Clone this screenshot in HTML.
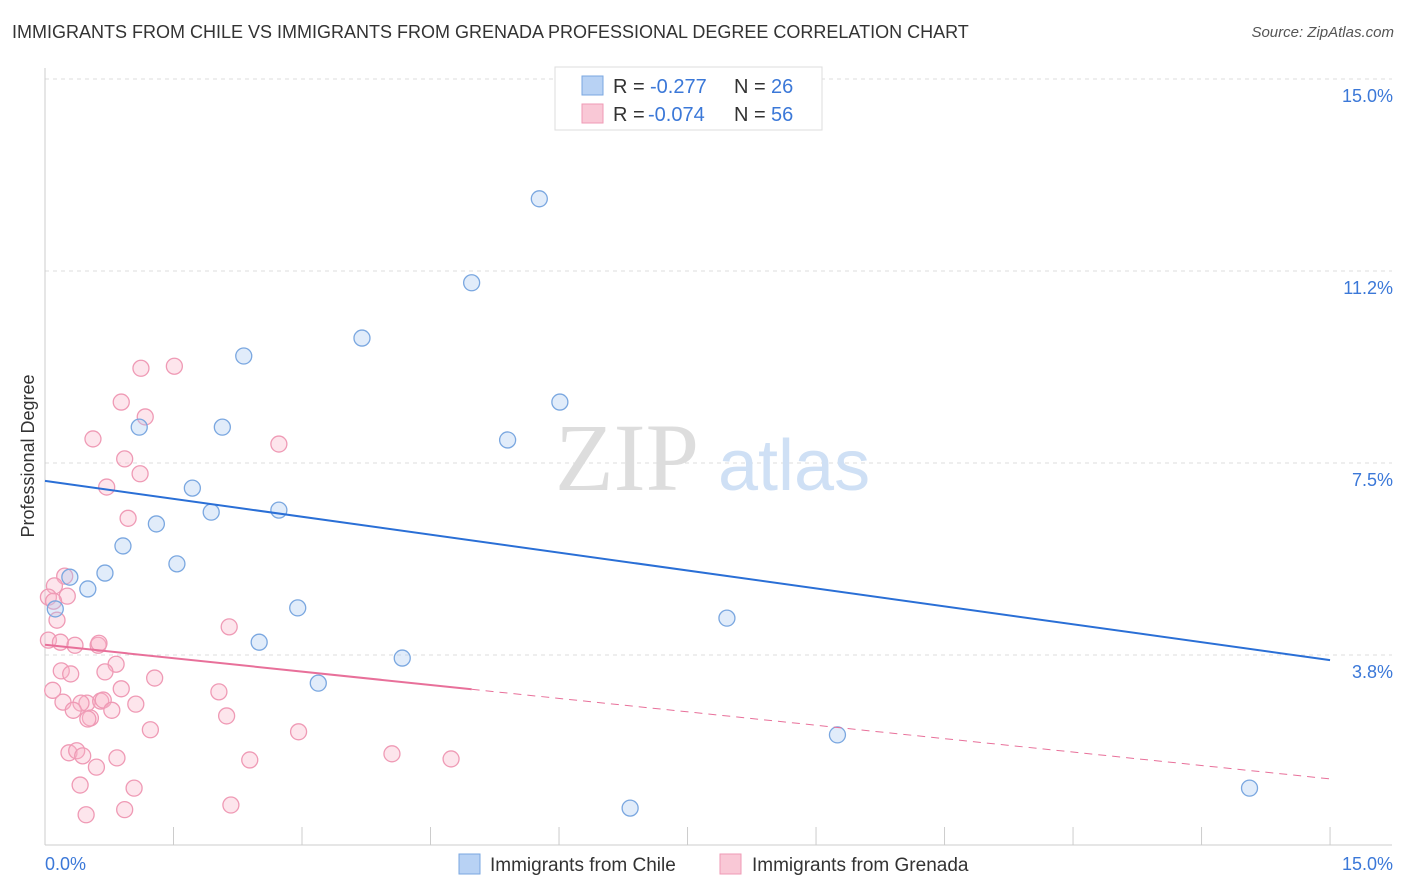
<!DOCTYPE html>
<html><head><meta charset="utf-8"><style>
body{margin:0;background:#fff;font-family:"Liberation Sans",sans-serif;}
#wrap{position:relative;width:1406px;height:892px;overflow:hidden;}
.title{position:absolute;left:12px;top:22px;font-size:18px;color:#333;}
.src{position:absolute;right:12px;top:24px;font-size:15px;color:#555;font-style:italic;}
</style></head><body>
<div id="wrap">
<div class="title">IMMIGRANTS FROM CHILE VS IMMIGRANTS FROM GRENADA PROFESSIONAL DEGREE CORRELATION CHART</div>
<div class="src">Source: ZipAtlas.com</div>
<svg id="svg" width="1406" height="892" style="position:absolute;left:0;top:0"></svg>
</div>
<script>
const yTicks=[3.75,7.5,11.25,15];
const yTickLabels=["3.8%","7.5%","11.2%","15.0%"];
const xTickVals=[0,1.5,3,4.5,6,7.5,9,10.5,12,13.5,15];
const chileX=[5.77,4.98,3.70,2.32,6.01,1.10,2.07,5.40,1.72,1.94,2.73,1.30,0.91,1.54,0.29,0.70,0.50,0.12,2.95,7.96,2.50,4.17,3.19,9.25,14.06,6.83];
const chileY=[12.66,11.02,9.94,9.59,8.69,8.20,8.20,7.95,7.01,6.54,6.58,6.31,5.88,5.53,5.27,5.35,5.04,4.65,4.67,4.47,4.00,3.69,3.20,2.19,1.15,0.76];
const grenX=[1.12,1.51,0.89,1.17,0.56,2.73,0.93,1.11,0.72,0.97,0.23,0.11,0.26,0.04,0.14,0.04,0.18,0.35,0.62,0.63,2.15,0.83,0.19,0.30,0.70,1.28,0.09,0.89,2.03,0.21,0.49,0.65,0.68,0.42,1.06,0.78,0.33,0.53,0.50,2.12,1.23,2.96,0.28,0.37,0.44,0.84,4.05,4.74,2.39,0.60,0.41,1.04,2.17,0.48,0.93,0.10];
const grenY=[9.35,9.39,8.69,8.40,7.97,7.87,7.58,7.29,7.03,6.42,5.29,5.10,4.90,4.88,4.43,4.04,4.00,3.94,3.94,3.98,4.30,3.57,3.44,3.38,3.42,3.30,3.06,3.09,3.03,2.83,2.81,2.85,2.87,2.81,2.79,2.67,2.67,2.52,2.50,2.56,2.29,2.25,1.84,1.88,1.78,1.74,1.82,1.72,1.70,1.56,1.21,1.15,0.82,0.63,0.73,4.80];
const blueLine=[7.15,3.65];
const pinkLine=[3.95,1.33];
const pinkSolidEnd=4.98;
const X=v=>45+v*85.67, Y=v=>847-v*51.2;
const svg=document.getElementById('svg');
const NS='http://www.w3.org/2000/svg';
function mk(t,a,p){const e=document.createElementNS(NS,t);for(const k in a)e.setAttribute(k,a[k]);(p||svg).appendChild(e);return e;}
// grid
for(let i=0;i<yTicks.length;i++){
 const g=mk('line',{x1:45,x2:1392,y1:Y(yTicks[i]),y2:Y(yTicks[i]),stroke:'#ddd','stroke-dasharray':'4,4'});
 
 const t=mk('text',{x:1393,y:Y(yTicks[i])+23,'text-anchor':'end',fill:'#3b78d8','font-size':18,'font-family':'Liberation Sans'});
 t.textContent=yTickLabels[i];
 
}
const ax=mk('line',{x1:45,x2:45,y1:68,y2:845,stroke:'#ccc'});

const bx=mk('line',{x1:45,x2:1392,y1:845,y2:845,stroke:'#ccc'});

xTickVals.forEach(v=>{const l=mk('line',{x1:X(v),x2:X(v),y1:827,y2:845,stroke:'#ccc'});
 });
const x0=mk('text',{x:45,y:870,fill:'#3b78d8','font-size':18,'font-family':'Liberation Sans'});x0.textContent='0.0%';

const x1=mk('text',{x:1393,y:870,'text-anchor':'end',fill:'#3b78d8','font-size':18,'font-family':'Liberation Sans'});x1.textContent='15.0%';

const yt=mk('text',{x:34,y:456,transform:'rotate(-90 34 456)','text-anchor':'middle',fill:'#333','font-size':18,'font-family':'Liberation Sans'});yt.textContent='Professional Degree';

// watermark
const wm=mk('text',{x:555,y:490,fill:'#ddd','font-size':96,'font-family':'Liberation Serif'});wm.textContent='ZIP';

const wm2=mk('text',{x:718,y:490,fill:'#cfe0f5','font-size':72,'font-family':'Liberation Sans'});wm2.textContent='atlas';

// points
grenX.forEach((v,i)=>{const c=mk('circle',{cx:X(v),cy:Y(grenY[i]),r:8,fill:'rgba(248,180,200,0.35)',stroke:'#ef9ab5','stroke-width':1.3});
 });
chileX.forEach((v,i)=>{const c=mk('circle',{cx:X(v),cy:Y(chileY[i]),r:8,fill:'rgba(170,200,240,0.35)',stroke:'#7aa7e0','stroke-width':1.3});
 });
// trend lines
const bl=mk('line',{x1:X(0),y1:Y(blueLine[0]),x2:X(15),y2:Y(blueLine[1]),stroke:'#2a6fd6','stroke-width':2});

const py=x=>pinkLine[0]+(pinkLine[1]-pinkLine[0])*x/15;
const pl=mk('line',{x1:X(0),y1:Y(py(0)),x2:X(pinkSolidEnd),y2:Y(py(pinkSolidEnd)),stroke:'#e8709a','stroke-width':2});

const pd=mk('line',{x1:X(pinkSolidEnd),y1:Y(py(pinkSolidEnd)),x2:X(15),y2:Y(py(15)),stroke:'#e8709a','stroke-width':1,'stroke-dasharray':'8,6'});

// legend box
const lg=mk('g',{});
mk('rect',{x:555,y:67,width:267,height:63,fill:'#fff',stroke:'#ddd'},lg);
mk('rect',{x:582,y:76,width:21,height:19,fill:'#b8d2f4',stroke:'#7aa7e0'},lg);
mk('rect',{x:582,y:104,width:21,height:19,fill:'#f9c8d6',stroke:'#ef9ab5'},lg);
function lt(x,y,s,c){const t=mk('text',{x:x,y:y,fill:c,'font-size':20,'font-family':'Liberation Sans'},lg);t.textContent=s;return t;}
lt(613,93,'R = ','#333');lt(650,93,'-0.277','#3b78d8');lt(734,93,'N = ','#333');lt(771,93,'26','#3b78d8');
lt(613,121,'R = ','#333');lt(648,121,'-0.074','#3b78d8');lt(734,121,'N = ','#333');lt(771,121,'56','#3b78d8');
// bottom legend
const bl1=mk('g',{});
mk('rect',{x:459,y:854,width:21,height:20,fill:'#b8d2f4',stroke:'#7aa7e0'},bl1);
const t1=mk('text',{x:490,y:871,fill:'#333','font-size':19,'font-family':'Liberation Sans'},bl1);t1.textContent='Immigrants from Chile';
const bl2=mk('g',{});
mk('rect',{x:720,y:854,width:21,height:20,fill:'#f9c8d6',stroke:'#ef9ab5'},bl2);
const t2=mk('text',{x:752,y:871,fill:'#333','font-size':19,'font-family':'Liberation Sans'},bl2);t2.textContent='Immigrants from Grenada';
</script>
</body></html>
